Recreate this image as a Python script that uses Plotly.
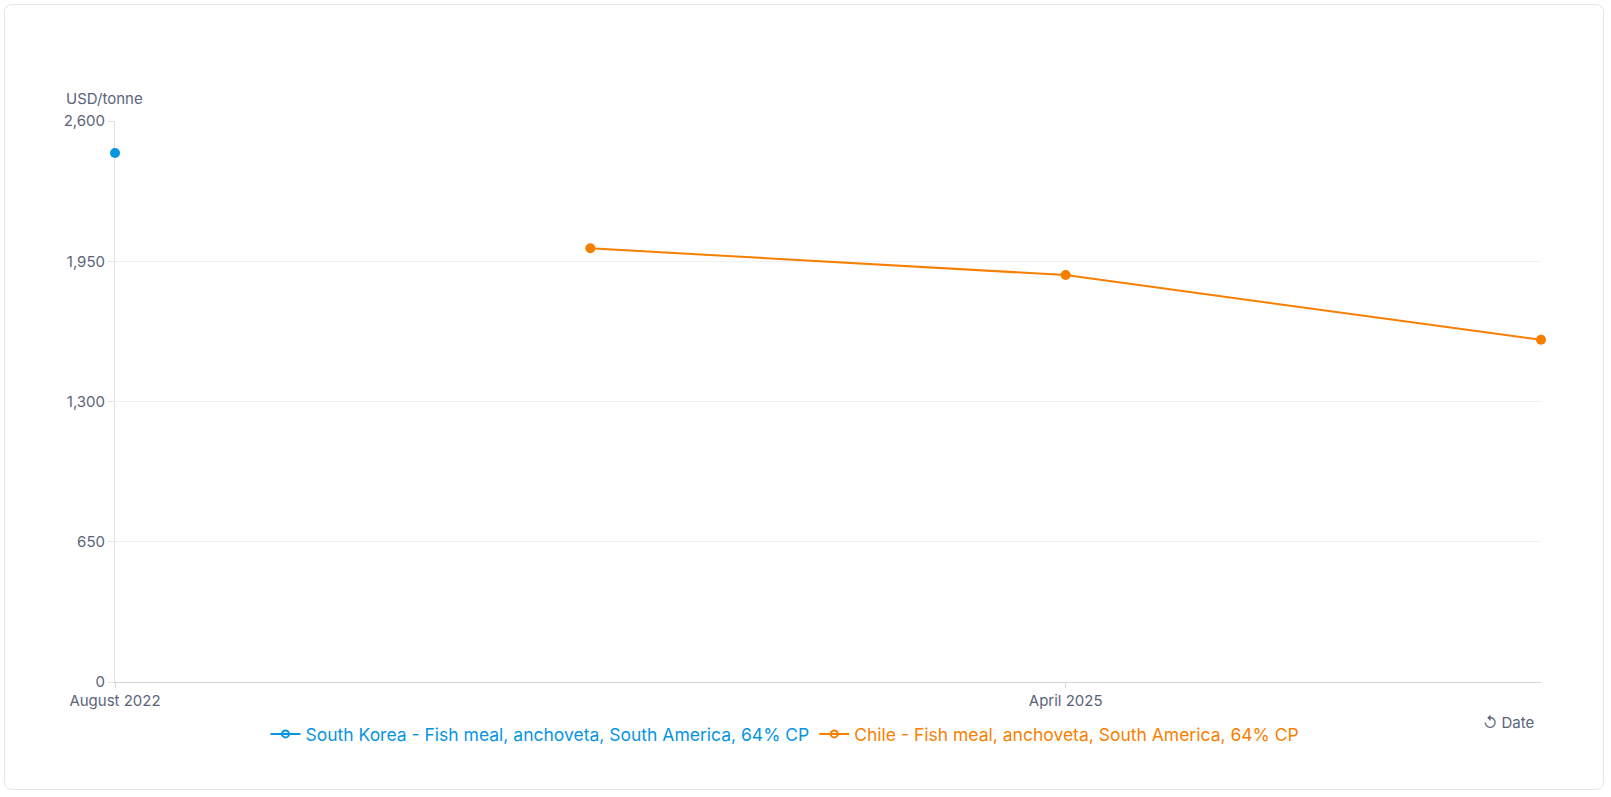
import plotly.graph_objects as go

categories = ["August 2022", "December 2024", "April 2025", "August 2025"]
korea_values = [2452, None, None, None]
chile_values = [None, 2010, 1886, 1586]
tick_labels = ["August 2022", "April 2025"]
y_ticks = [0, 650, 1300, 1950, 2600]
korea_name = "South Korea - Fish meal, anchoveta, South America, 64% CP"
chile_name = "Chile - Fish meal, anchoveta, South America, 64% CP"

W, H = 1611, 797
L, R, T, B = 115, 70, 121, 115
pw, ph = W - L - R, H - T - B

BLUE = "#0795e0"
ORANGE = "#f77f00"
TXT = "#5b6478"
FONT = "Inter"

fig = go.Figure()
for vals, name, col in [(korea_values, korea_name, BLUE), (chile_values, chile_name, ORANGE)]:
    fig.add_trace(go.Scatter(
        x=categories, y=vals, mode="lines+markers", name=name,
        line=dict(color=col, width=2), marker=dict(size=10, color=col),
        cliponaxis=False, connectgaps=False, showlegend=False,
    ))
# legend entries (open-circle symbol as in the reference)
for name, col in [(korea_name, BLUE), (chile_name, ORANGE)]:
    fig.add_trace(go.Scatter(
        x=[None], y=[None], mode="lines+markers",
        name=f"<span style='color:{col}'>{name}</span>",
        line=dict(color=col, width=2),
        marker=dict(size=7, color=col, symbol="circle-open", line=dict(color=col, width=2)),
    ))

def px_x(p):
    return (p - L) / pw

def px_y(p):
    return (H - B - p) / ph

# rounded card border
x0, x1 = px_x(4.5), px_x(1603.5)
y0, y1 = px_y(789.5), px_y(4.5)
rx, ry = 8 / pw, 8 / ph
path = (f"M {x0+rx},{y1} L {x1-rx},{y1} Q {x1},{y1} {x1},{y1-ry} "
        f"L {x1},{y0+ry} Q {x1},{y0} {x1-rx},{y0} L {x0+rx},{y0} "
        f"Q {x0},{y0} {x0},{y0+ry} L {x0},{y1-ry} Q {x0},{y1} {x0+rx},{y1} Z")
fig.add_shape(type="path", path=path, xref="paper", yref="paper",
              line=dict(color="#e2e5ea", width=1), layer="below")

fig.add_annotation(x=px_x(64), y=px_y(98), xref="paper", yref="paper",
                   text="USD/tonne", showarrow=False, xanchor="left", yanchor="middle",
                   font=dict(family=FONT, size=15, color=TXT))
fig.add_annotation(x=px_x(1536), y=px_y(722), xref="paper", yref="paper",
                   text="↺ Date", showarrow=False, xanchor="right", yanchor="middle",
                   font=dict(family=FONT, size=15, color=TXT))

fig.update_layout(
    width=W, height=H,
    margin=dict(l=L, r=R, t=T, b=B),
    paper_bgcolor="white", plot_bgcolor="white",
    font=dict(family=FONT, size=15, color=TXT),
    showlegend=True,
    legend=dict(orientation="h", x=px_x(785), xanchor="center", y=px_y(734), yanchor="middle",
                font=dict(family=FONT, size=17.5), itemwidth=30, traceorder="normal",
                itemclick=False, tracegroupgap=0),
    xaxis=dict(type="category", categoryorder="array", categoryarray=categories,
               range=[0, 3], tickmode="array", tickvals=tick_labels, ticktext=tick_labels,
               showgrid=False, showline=True, linecolor="#d3d8df", linewidth=1,
               ticks="outside", ticklen=5, tickcolor="#d3d8df", layer="below traces",
               tickfont=dict(family=FONT, size=15, color=TXT), zeroline=False),
    yaxis=dict(range=[0, 2600], tickmode="array", tickvals=y_ticks,
               ticktext=[f"{v:,}" for v in y_ticks],
               showgrid=True, gridcolor="#eef0f2", gridwidth=1,
               showline=True, linecolor="#dfe3e8", linewidth=1, layer="below traces",
               ticks="outside", ticklen=6, tickcolor="#dfe3e8",
               tickfont=dict(family=FONT, size=15, color=TXT), zeroline=False),
)

fig.write_html("out.html", config={"displayModeBar": False},
               post_script="document.body.style.margin='0';")
